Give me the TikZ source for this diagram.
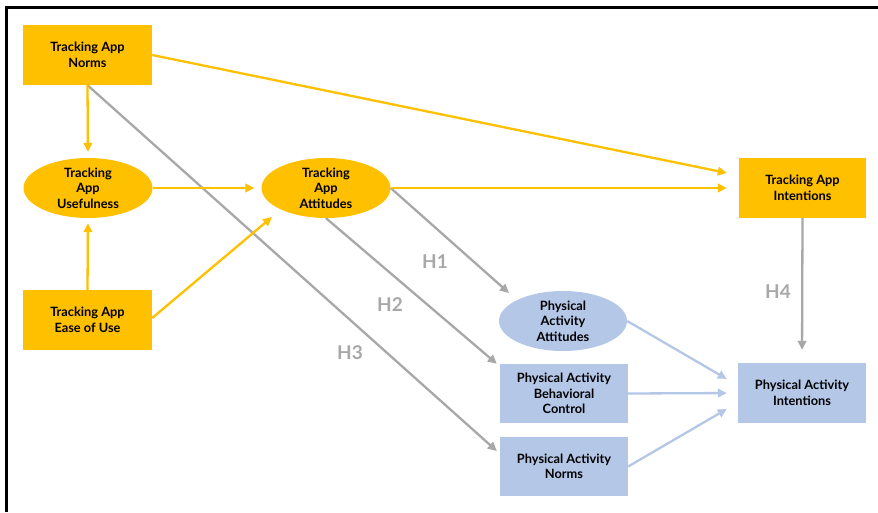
\documentclass[tikz,border=0pt]{standalone}
\usepackage{fontspec}
\setmainfont{Lato}
\usetikzlibrary{arrows.meta,shapes.geometric}
\definecolor{ty}{RGB}{255,192,0}
\definecolor{pb}{RGB}{180,199,231}
\definecolor{ga}{RGB}{168,168,168}
\definecolor{ba}{RGB}{180,199,231}
\begin{document}
\begin{tikzpicture}[x=1pt,y=1pt,
  lbl/.style={font=\bfseries\fontsize{12.8}{15.5}\selectfont, align=center, text=black, inner sep=0pt},
  ybox/.style={lbl, rectangle, fill=ty, minimum width=129pt, minimum height=60pt},
  yell/.style={lbl, ellipse, fill=ty, minimum width=129pt, minimum height=60pt},
  bbox/.style={lbl, rectangle, fill=pb, minimum width=128pt, minimum height=59pt},
  bell/.style={lbl, ellipse, fill=pb, minimum width=128pt, minimum height=60pt},
  arr/.style={line width=2.3pt, -{Triangle[length=9pt,width=8.5pt]}},
  yarr/.style={arr, draw=ty},
  garr/.style={arr, draw=ga},
  barr/.style={arr, draw=ba},
  hlab/.style={font=\bfseries\fontsize{19}{19}\selectfont, text=ga, inner sep=0pt}]
\useasboundingbox (0,0) rectangle (878,512);
\fill[white] (0,0) rectangle (878,512);
\draw[line width=3pt] (6,0) -- (6,504) -- (878,504);

\node[ybox] (na) at (87.5,457) {Tracking App\\Norms};
\node[yell] (tau) at (88,324) {Tracking\\App\\Usefulness};
\node[yell] (tatt) at (326,324) {Tracking\\App\\Attitudes};
\node[ybox] (tae) at (87.5,192) {Tracking App\\Ease of Use};
\node[ybox, minimum width=127pt] (tai) at (802.5,324) {Tracking App\\Intentions};
\node[bell] (paa) at (563,191) {Physical\\Activity\\Attitudes};
\node[bbox] (pbc) at (564,118.5) {Physical Activity\\Behavioral\\Control};
\node[bbox] (pan) at (564,45.5) {Physical Activity\\Norms};
\node[bbox, minimum height=60pt] (pai) at (802,119) {Physical Activity\\Intentions};

\node[hlab] (h1) at (435,250) {H1};
\node[hlab] (h2) at (390,207) {H2};
\node[hlab] (h3) at (350,159) {H3};
\node[hlab] (h4) at (778,220) {H4};

% grey
\draw[garr] (na.south) -- ([shift={(-3,15.5)}]pan.west);
\draw[garr] (tatt.south) -- ([shift={(-3,0)}]pbc.north west);
\draw[garr] (tatt.east) -- ([shift={(-54,28)}]paa.center);
\draw[garr, shorten >=13pt] (tai.south) -- (pai.north);

% yellow
\draw[yarr] (na.east) -- ([shift={(-12,15)}]tai.west);
\draw[yarr, shorten >=12pt] (tatt.east) -- (tai.west);
\draw[yarr, shorten >=6pt] (na.south) -- (tau.north);
\draw[yarr, shorten >=5pt] (tae.north) -- (tau.south);
\draw[yarr, shorten >=7pt] (tau.east) -- (tatt.west);
\draw[yarr] ([yshift=2pt]tae.east) -- ([shift={(-54,-29)}]tatt.center);

% blue
\draw[barr] (paa.east) -- ([shift={(-11,14)}]pai.west);
\draw[barr, shorten >=11pt] (pbc.east) -- (pai.west);
\draw[barr] (pan.east) -- ([shift={(-11,-16)}]pai.west);
\end{tikzpicture}
\end{document}
